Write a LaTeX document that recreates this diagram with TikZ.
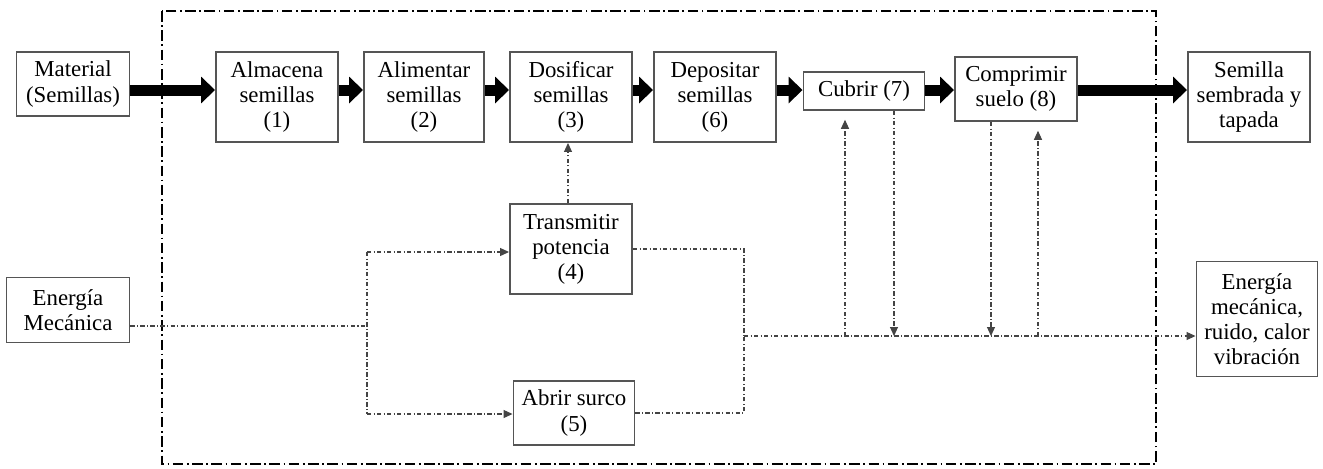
\documentclass[tikz,border=0pt]{standalone}
\usepackage{fontspec}
\setmainfont{Liberation Serif}
\usepackage{xcolor}
\usetikzlibrary{arrows.meta}

\definecolor{boxgray}{HTML}{555555}
\definecolor{linegray}{HTML}{444444}

\tikzset{
  fbox/.style={draw=boxgray, line width=1.1pt, align=center, inner sep=0pt,
    font=\fontsize{13}{14.3}\selectfont},
  bigarrow/.style={line width=0.22cm, -{Triangle[length=0.28cm,width=0.52cm]}},
  flow/.style={linegray, line width=0.6pt,
    dash pattern=on 2.5pt off 1.3pt on 0.6pt off 1.3pt},
  flowtip/.style={flow, -{Triangle[length=0.18cm,width=0.16cm]}},
  border/.style={black, line width=1.3pt,
    dash pattern=on 6pt off 2pt on 1pt off 2pt}
}

\begin{document}
\begin{tikzpicture}[x=0.02cm, y=-0.02cm]
  \useasboundingbox (0,0) rectangle (1323,468);

  % System border
  \draw[border] (162,11) rectangle (1156,464);

  % Nodes
  \node[fbox, minimum width=2.26cm, minimum height=1.28cm] (mat) at (73,84) {Material\\(Semillas)};
  \node[fbox, minimum width=2.44cm, minimum height=1.8cm] (alm) at (277,97) {Almacena\\semillas\\(1)};
  \node[fbox, minimum width=2.4cm, minimum height=1.8cm] (ali) at (424,97) {Alimentar\\semillas\\(2)};
  \node[fbox, minimum width=2.44cm, minimum height=1.8cm] (dos) at (571,97) {Dosificar\\semillas\\(3)};
  \node[fbox, minimum width=2.44cm, minimum height=1.8cm] (dep) at (715,97) {Depositar\\semillas\\(6)};
  \node[fbox, minimum width=2.42cm, minimum height=0.76cm] (cub) at (864,91) {Cubrir (7)};
  \node[fbox, minimum width=2.44cm, minimum height=1.28cm] (com) at (1016,89) {Comprimir\\suelo (8)};
  \node[fbox, minimum width=2.44cm, minimum height=1.8cm] (sem) at (1249,97) {Semilla\\sembrada y\\tapada};
  \node[fbox, minimum width=2.44cm, minimum height=1.8cm] (tra) at (571,249) {Transmitir\\potencia\\(4)};
  \node[fbox, minimum width=2.42cm, minimum height=1.28cm] (abr) at (574,413) {Abrir surco\\(5)};
  \node[fbox, minimum width=2.46cm, minimum height=1.3cm] (emec) at (68,310) {Energía\\Mecánica};
  \node[fbox, minimum width=2.42cm, minimum height=2.3cm] (eout) at (1257,319) {Energía\\mecánica,\\ruido, calor\\vibración};

  % Junctions
  \coordinate (row) at (0,90);
  \coordinate (jin) at (367,326);
  \coordinate (jt) at (367,252);
  \coordinate (jb) at (367,414);
  \coordinate (jout) at (744,336);
  \coordinate (c1) at (845,336);
  \coordinate (c2) at (894,336);
  \coordinate (c3) at (991,336);
  \coordinate (c4) at (1038,336);

  % Material flow
  \draw[bigarrow] (mat.east |- row) -- (alm.west |- row);
  \draw[bigarrow] (alm.east |- row) -- (ali.west |- row);
  \draw[bigarrow] (ali.east |- row) -- (dos.west |- row);
  \draw[bigarrow] (dos.east |- row) -- (dep.west |- row);
  \draw[bigarrow] (dep.east |- row) -- (cub.west |- row);
  \draw[bigarrow] (cub.east |- row) -- (com.west |- row);
  \draw[bigarrow] (com.east |- row) -- (sem.west |- row);

  % Energy flow
  \draw[flow] (emec.east |- jin) -- (jin);
  \draw[flow] (jt) -- (jb);
  \draw[flowtip] (jt) -- (tra.west |- jt);
  \draw[flowtip] (jb) -- (abr.west |- jb);
  \draw[flowtip] (tra.north -| 568,0) -- (dos.south -| 568,0);
  \draw[flow] (tra.east) -| (jout);
  \draw[flow] (abr.east) -| (jout);
  \draw[flowtip] (jout) -- (eout.west |- jout);
  \draw[flowtip, shorten >=5pt] (c1) -- (c1 |- cub.south);
  \draw[flowtip] (cub.south -| c2) -- (c2);
  \draw[flowtip] (com.south -| c3) -- (c3);
  \draw[flowtip, shorten >=5pt] (c4) -- (c4 |- com.south);
\end{tikzpicture}
\end{document}
